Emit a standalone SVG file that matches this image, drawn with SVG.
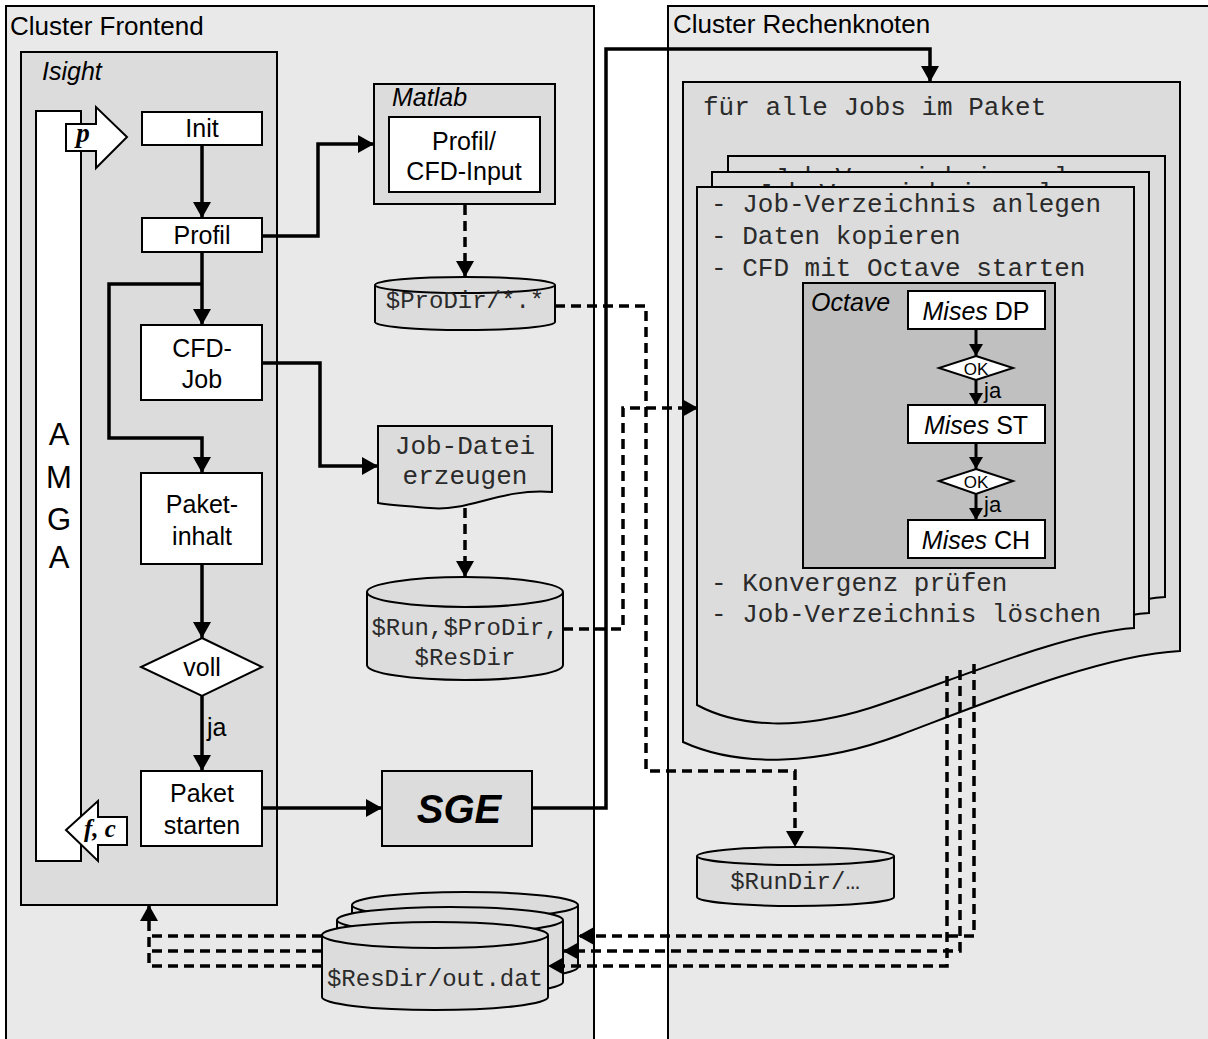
<svg xmlns="http://www.w3.org/2000/svg" width="1208" height="1039" viewBox="0 0 1208 1039">
<defs>
<style>
.cl{fill:#e9e9e9;stroke:#000;stroke-width:2}
.gr{fill:#dcdcdc;stroke:#000;stroke-width:2}
.wh{fill:#fff;stroke:#000;stroke-width:2}
.dk{fill:#c0c0c0;stroke:#000;stroke-width:2}
.t{font-family:"Liberation Sans",Arial,sans-serif;font-size:25px;fill:#000}
.c{text-anchor:middle}
.i{font-style:italic}
.m{font-family:"Liberation Mono","Courier New",monospace;font-size:26px;fill:#2a2a2a}
.m24{font-size:24px}
.am{font-size:31px}
.sf{font-family:"Liberation Serif","Times New Roman",serif;font-weight:bold;font-style:italic}
.ln{fill:none;stroke:#000;stroke-width:3.5}
.ds{fill:none;stroke:#000;stroke-width:3.5;stroke-dasharray:10 6}
.th{fill:none;stroke:#000;stroke-width:3}
</style>
<marker id="a" viewBox="0 0 16 18" refX="16" refY="9" markerWidth="16" markerHeight="18" markerUnits="userSpaceOnUse" orient="auto"><path d="M0,0L16,9L0,18z"/></marker>
<marker id="as" viewBox="0 0 12 14" refX="12" refY="7" markerWidth="12" markerHeight="14" markerUnits="userSpaceOnUse" orient="auto"><path d="M0,0L12,7L0,14z"/></marker>
</defs>
<rect width="1208" height="1039" fill="#fff"/>

<g id="cluster-frontend">
<rect class="cl" x="6" y="6" width="588" height="1045"/>
<text class="t" x="10" y="35" style="font-size:26px">Cluster Frontend</text>
</g>
<g id="cluster-rechenknoten">
<rect class="cl" x="668" y="6" width="550" height="1045"/>
<text class="t" x="673" y="33" style="font-size:26px">Cluster Rechenknoten</text>
</g>

<g id="isight">
<rect class="gr" x="21" y="52" width="256" height="853"/>
<text class="t i" x="42" y="80">Isight</text>
</g>
<g id="amga">
<rect class="wh" x="36" y="111" width="45" height="750"/>
<text class="t c am" x="59" y="445">A</text>
<text class="t c am" x="59" y="488">M</text>
<text class="t c am" x="59" y="530">G</text>
<text class="t c am" x="59" y="568">A</text>
</g>
<g id="p-arrow">
<polygon class="wh" points="66,124 96,124 96,107 127,137 96,168 96,151 66,151"/>
<text class="sf c" x="83" y="142" font-size="27">p</text>
</g>
<g id="fc-arrow">
<polygon class="wh" points="66,830 98,801 98,817 127,817 127,845 98,845 98,861"/>
<text class="sf c" x="100" y="837" font-size="25">f, c</text>
</g>

<g id="init"><rect class="wh" x="142" y="112" width="120" height="33"/><text class="t c" x="202" y="137">Init</text></g>
<g id="profil"><rect class="wh" x="142" y="218" width="120" height="34"/><text class="t c" x="202" y="244">Profil</text></g>
<g id="cfd-job"><rect class="wh" x="141" y="325" width="121" height="75"/><text class="t c" x="202" y="357">CFD-</text><text class="t c" x="202" y="388">Job</text></g>
<g id="paketinhalt"><rect class="wh" x="141" y="473" width="121" height="91"/><text class="t c" x="202" y="513">Paket-</text><text class="t c" x="202" y="545">inhalt</text></g>
<g id="voll"><polygon class="wh" points="202,638 262,667 202,696 141,667"/><text class="t c" x="202" y="676">voll</text></g>
<g id="paket-starten"><rect class="wh" x="141" y="771" width="121" height="75"/><text class="t c" x="202" y="802">Paket</text><text class="t c" x="202" y="834">starten</text></g>

<g id="matlab">
<rect class="gr" x="374" y="84" width="181" height="120"/>
<text class="t i" x="392" y="106">Matlab</text>
<rect class="wh" x="389" y="117" width="151" height="75"/>
<text class="t c" x="464" y="150">Profil/</text>
<text class="t c" x="464" y="180">CFD-Input</text>
</g>
<g id="prodir">
<path class="gr" d="M375,285 V322 A90,8 0 0 0 555,322 V285"/>
<ellipse class="gr" cx="465" cy="285" rx="90" ry="8"/>
<text class="m m24 c" x="465" y="308">$ProDir/*.*</text>
</g>
<g id="job-datei">
<path class="gr" d="M378,503 V426 H552 V492 C500,488 470,512 430,508 C405,506 390,505 378,503 Z"/>
<text class="m c" x="465" y="454">Job-Datei</text>
<text class="m c" x="465" y="484">erzeugen</text>
</g>
<g id="run-dirs">
<path class="gr" d="M367,592 V665 A98,15 0 0 0 563,665 V592"/>
<ellipse class="gr" cx="465" cy="592" rx="98" ry="15"/>
<text class="m m24 c" x="465" y="635">$Run,$ProDir,</text>
<text class="m m24 c" x="465" y="665">$ResDir</text>
</g>
<g id="sge">
<rect class="gr" x="382" y="771" width="150" height="75"/>
<text class="t c" x="459" y="823" style="font-size:40px;font-weight:bold;font-style:italic">SGE</text>
</g>
<g id="resdir">
<path class="gr" d="M352,905 V967 A113,13 0 0 0 578,967 V905"/>
<ellipse class="gr" cx="465" cy="905" rx="113" ry="13"/>
<path class="gr" d="M337,920 V982 A113,13 0 0 0 563,982 V920"/>
<ellipse class="gr" cx="450" cy="920" rx="113" ry="13"/>
<path class="gr" d="M322,935 V997 A113,13 0 0 0 548,997 V935"/>
<ellipse class="gr" cx="435" cy="935" rx="113" ry="13"/>
<text class="m m24 c" x="435" y="986">$ResDir/out.dat</text>
</g>

<g id="paket-loop">
<path class="gr" d="M683,82 H1180 V651 C1100,655 980,705 900,735 C820,765 740,768 683,742 Z"/>
<text class="m" x="703" y="115">für alle Jobs im Paket</text>
</g>
<g id="job-3" transform="translate(31,-31)">
<path class="gr" d="M697,187 H1134 V628 C1060,633 940,686 870,708 C800,730 740,728 697,705 Z"/>
<text class="m" x="711" y="216">- Job-Verzeichnis anlegen</text>
</g>
<g id="job-2" transform="translate(15,-15)">
<path class="gr" d="M697,187 H1134 V628 C1060,633 940,686 870,708 C800,730 740,728 697,705 Z"/>
<text class="m" x="711" y="216">- Job-Verzeichnis anlegen</text>
</g>
<g id="job-1">
<path class="gr" d="M697,187 H1134 V628 C1060,633 940,686 870,708 C800,730 740,728 697,705 Z"/>
<text class="m" x="711" y="212">- Job-Verzeichnis anlegen</text>
<text class="m" x="711" y="244">- Daten kopieren</text>
<text class="m" x="711" y="276">- CFD mit Octave starten</text>
<text class="m" x="711" y="591">- Konvergenz prüfen</text>
<text class="m" x="711" y="622">- Job-Verzeichnis löschen</text>
</g>
<g id="octave">
<rect class="dk" x="803" y="283" width="252" height="285"/>
<text class="t i" x="811" y="311">Octave</text>
</g>
<g id="mises-dp"><rect class="wh" x="908" y="291" width="137" height="38"/><text class="t c" x="976" y="320"><tspan font-style="italic">Mises</tspan> DP</text></g>
<g id="ok-1"><polygon class="wh" points="976,356 1013,368 976,380 939,368"/><text class="t c" x="976" y="375" style="font-size:17px">OK</text></g>
<g id="mises-st"><rect class="wh" x="908" y="405" width="137" height="38"/><text class="t c" x="976" y="434"><tspan font-style="italic">Mises</tspan> ST</text></g>
<g id="ok-2"><polygon class="wh" points="976,469 1013,481 976,494 939,481"/><text class="t c" x="976" y="488" style="font-size:17px">OK</text></g>
<g id="mises-ch"><rect class="wh" x="908" y="520" width="137" height="38"/><text class="t c" x="976" y="549"><tspan font-style="italic">Mises</tspan> CH</text></g>
<g id="rundir">
<path class="gr" d="M697,856 V897 A98.5,9 0 0 0 894,897 V856"/>
<ellipse class="gr" cx="795.5" cy="856" rx="98.5" ry="9"/>
<text class="m m24 c" x="795" y="889">$RunDir/…</text>
</g>

<g id="connectors">
<path class="ln" marker-end="url(#a)" d="M202,145 V218"/>
<path class="ln" marker-end="url(#a)" d="M202,252 V325"/>
<path class="ln" marker-end="url(#a)" d="M202,284 H109 V438 H202 V473"/>
<path class="ln" marker-end="url(#a)" d="M202,564 V638"/>
<path class="ln" marker-end="url(#a)" d="M202,696 V771"/>
<text class="t" x="207" y="736">ja</text>
<path class="ln" marker-end="url(#a)" d="M262,236 H318 V144 H374"/>
<path class="ln" marker-end="url(#a)" d="M262,363 H320 V466 H378"/>
<path class="ln" marker-end="url(#a)" d="M262,808 H382"/>
<path class="ln" marker-end="url(#a)" d="M532,808 H606 V49 H930 V82"/>
<path class="ds" marker-end="url(#a)" d="M465,205 V277"/>
<path class="ds" marker-end="url(#a)" d="M465,508 V577"/>
<path class="ds" marker-end="url(#a)" d="M555,306 H646 V771 H795 V847"/>
<path class="ds" marker-end="url(#a)" d="M563,629 H623 V408 H698"/>
<path class="ds" marker-end="url(#a)" d="M974,664 V936 H578"/>
<path class="ds" marker-end="url(#a)" d="M960,670 V951 H563"/>
<path class="ds" marker-end="url(#a)" d="M947,676 V966 H548"/>
<path class="ds" d="M322,936 H149"/>
<path class="ds" d="M322,951 H149"/>
<path class="ds" marker-end="url(#a)" d="M322,966 H149 V905"/>
<path class="th" marker-end="url(#as)" d="M976,329 V356"/>
<path class="th" marker-end="url(#as)" d="M976,380 V405"/>
<path class="th" marker-end="url(#as)" d="M976,443 V469"/>
<path class="th" marker-end="url(#as)" d="M976,494 V520"/>
<text class="t" x="984" y="398" style="font-size:22px">ja</text>
<text class="t" x="984" y="512" style="font-size:22px">ja</text>
</g>
</svg>
